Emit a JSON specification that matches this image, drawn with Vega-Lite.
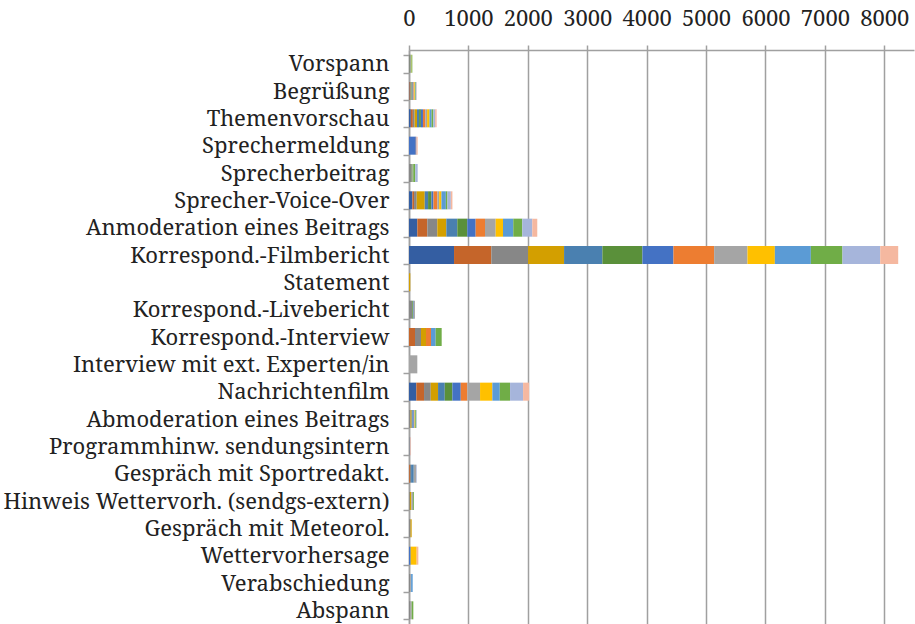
{
  "$schema": "https://vega.github.io/schema/vega-lite/v6.json",
  "width": 505,
  "height": 574,
  "autosize": {"type": "none"},
  "padding": {"left": 409, "top": 50, "right": 1, "bottom": 0},
  "background": "white",
  "config": {"view": {"stroke": null}, "font": "'Noto Serif', 'DejaVu Serif', serif"},
  "datasets": {
    "rows": [
      {"cat": "Vorspann", "s": "S03", "v": 15}, {"cat": "Vorspann", "s": "S06", "v": 10}, {"cat": "Vorspann", "s": "S09", "v": 10}, {"cat": "Vorspann", "s": "S10", "v": 6}, {"cat": "Vorspann", "s": "S12", "v": 15},
      {"cat": "Begrüßung", "s": "S01", "v": 8}, {"cat": "Begrüßung", "s": "S02", "v": 10}, {"cat": "Begrüßung", "s": "S03", "v": 12}, {"cat": "Begrüßung", "s": "S04", "v": 10}, {"cat": "Begrüßung", "s": "S05", "v": 8}, {"cat": "Begrüßung", "s": "S06", "v": 10}, {"cat": "Begrüßung", "s": "S07", "v": 8}, {"cat": "Begrüßung", "s": "S08", "v": 12}, {"cat": "Begrüßung", "s": "S09", "v": 10}, {"cat": "Begrüßung", "s": "S10", "v": 12}, {"cat": "Begrüßung", "s": "S11", "v": 10}, {"cat": "Begrüßung", "s": "S12", "v": 8}, {"cat": "Begrüßung", "s": "S13", "v": 8}, {"cat": "Begrüßung", "s": "S14", "v": 4},
      {"cat": "Themenvorschau", "s": "S01", "v": 30}, {"cat": "Themenvorschau", "s": "S02", "v": 35}, {"cat": "Themenvorschau", "s": "S03", "v": 30}, {"cat": "Themenvorschau", "s": "S04", "v": 40}, {"cat": "Themenvorschau", "s": "S05", "v": 35}, {"cat": "Themenvorschau", "s": "S06", "v": 30}, {"cat": "Themenvorschau", "s": "S07", "v": 35}, {"cat": "Themenvorschau", "s": "S08", "v": 40}, {"cat": "Themenvorschau", "s": "S09", "v": 30}, {"cat": "Themenvorschau", "s": "S10", "v": 40}, {"cat": "Themenvorschau", "s": "S11", "v": 35}, {"cat": "Themenvorschau", "s": "S12", "v": 30}, {"cat": "Themenvorschau", "s": "S13", "v": 30}, {"cat": "Themenvorschau", "s": "S14", "v": 25},
      {"cat": "Sprechermeldung\u00a0", "s": "S07", "v": 115}, {"cat": "Sprechermeldung\u00a0", "s": "S08", "v": 10}, {"cat": "Sprechermeldung\u00a0", "s": "S13", "v": 8}, {"cat": "Sprechermeldung\u00a0", "s": "S14", "v": 13},
      {"cat": "Sprecherbeitrag", "s": "S03", "v": 45}, {"cat": "Sprecherbeitrag", "s": "S06", "v": 15}, {"cat": "Sprecherbeitrag", "s": "S09", "v": 11}, {"cat": "Sprecherbeitrag", "s": "S12", "v": 35}, {"cat": "Sprecherbeitrag", "s": "S13", "v": 40},
      {"cat": "Sprecher-Voice-Over", "s": "S01", "v": 56}, {"cat": "Sprecher-Voice-Over", "s": "S02", "v": 29}, {"cat": "Sprecher-Voice-Over", "s": "S03", "v": 45}, {"cat": "Sprecher-Voice-Over", "s": "S04", "v": 135}, {"cat": "Sprecher-Voice-Over", "s": "S05", "v": 56}, {"cat": "Sprecher-Voice-Over", "s": "S06", "v": 56}, {"cat": "Sprecher-Voice-Over", "s": "S07", "v": 34}, {"cat": "Sprecher-Voice-Over", "s": "S08", "v": 67}, {"cat": "Sprecher-Voice-Over", "s": "S09", "v": 29}, {"cat": "Sprecher-Voice-Over", "s": "S10", "v": 39}, {"cat": "Sprecher-Voice-Over", "s": "S11", "v": 74}, {"cat": "Sprecher-Voice-Over", "s": "S12", "v": 27}, {"cat": "Sprecher-Voice-Over", "s": "S13", "v": 57}, {"cat": "Sprecher-Voice-Over", "s": "S14", "v": 27},
      {"cat": "Anmoderation eines Beitrags", "s": "S01", "v": 140}, {"cat": "Anmoderation eines Beitrags", "s": "S02", "v": 168}, {"cat": "Anmoderation eines Beitrags", "s": "S03", "v": 168}, {"cat": "Anmoderation eines Beitrags", "s": "S04", "v": 152}, {"cat": "Anmoderation eines Beitrags", "s": "S05", "v": 185}, {"cat": "Anmoderation eines Beitrags", "s": "S06", "v": 168}, {"cat": "Anmoderation eines Beitrags", "s": "S07", "v": 141}, {"cat": "Anmoderation eines Beitrags", "s": "S08", "v": 157}, {"cat": "Anmoderation eines Beitrags", "s": "S09", "v": 180}, {"cat": "Anmoderation eines Beitrags", "s": "S10", "v": 123}, {"cat": "Anmoderation eines Beitrags", "s": "S11", "v": 173}, {"cat": "Anmoderation eines Beitrags", "s": "S12", "v": 152}, {"cat": "Anmoderation eines Beitrags", "s": "S13", "v": 168}, {"cat": "Anmoderation eines Beitrags", "s": "S14", "v": 84},
      {"cat": "Korrespond.-Filmbericht", "s": "S01", "v": 758}, {"cat": "Korrespond.-Filmbericht", "s": "S02", "v": 628}, {"cat": "Korrespond.-Filmbericht", "s": "S03", "v": 618}, {"cat": "Korrespond.-Filmbericht", "s": "S04", "v": 606}, {"cat": "Korrespond.-Filmbericht", "s": "S05", "v": 645}, {"cat": "Korrespond.-Filmbericht", "s": "S06", "v": 674}, {"cat": "Korrespond.-Filmbericht", "s": "S07", "v": 522}, {"cat": "Korrespond.-Filmbericht", "s": "S08", "v": 685}, {"cat": "Korrespond.-Filmbericht", "s": "S09", "v": 561}, {"cat": "Korrespond.-Filmbericht", "s": "S10", "v": 461}, {"cat": "Korrespond.-Filmbericht", "s": "S11", "v": 606}, {"cat": "Korrespond.-Filmbericht", "s": "S12", "v": 532}, {"cat": "Korrespond.-Filmbericht", "s": "S13", "v": 635}, {"cat": "Korrespond.-Filmbericht", "s": "S14", "v": 303},
      {"cat": "Statement", "s": "S04", "v": 22},
      {"cat": "Korrespond.-Livebericht", "s": "S03", "v": 55}, {"cat": "Korrespond.-Livebericht", "s": "S06", "v": 15}, {"cat": "Korrespond.-Livebericht", "s": "S07", "v": 10}, {"cat": "Korrespond.-Livebericht", "s": "S09", "v": 20},
      {"cat": "Korrespond.-Interview", "s": "S02", "v": 101}, {"cat": "Korrespond.-Interview", "s": "S03", "v": 101}, {"cat": "Korrespond.-Interview", "s": "S04", "v": 84}, {"cat": "Korrespond.-Interview", "s": "S08", "v": 84}, {"cat": "Korrespond.-Interview", "s": "S11", "v": 79}, {"cat": "Korrespond.-Interview", "s": "S12", "v": 101},
      {"cat": "Interview mit ext. Experten/in", "s": "S09", "v": 140},
      {"cat": "Nachrichtenfilm", "s": "S01", "v": 123}, {"cat": "Nachrichtenfilm", "s": "S02", "v": 130}, {"cat": "Nachrichtenfilm", "s": "S03", "v": 113}, {"cat": "Nachrichtenfilm", "s": "S04", "v": 123}, {"cat": "Nachrichtenfilm", "s": "S05", "v": 113}, {"cat": "Nachrichtenfilm", "s": "S06", "v": 128}, {"cat": "Nachrichtenfilm", "s": "S07", "v": 141}, {"cat": "Nachrichtenfilm", "s": "S08", "v": 111}, {"cat": "Nachrichtenfilm", "s": "S09", "v": 214}, {"cat": "Nachrichtenfilm", "s": "S10", "v": 207}, {"cat": "Nachrichtenfilm", "s": "S11", "v": 125}, {"cat": "Nachrichtenfilm", "s": "S12", "v": 173}, {"cat": "Nachrichtenfilm", "s": "S13", "v": 219}, {"cat": "Nachrichtenfilm", "s": "S14", "v": 101},
      {"cat": "Abmoderation eines Beitrags", "s": "S03", "v": 25}, {"cat": "Abmoderation eines Beitrags", "s": "S04", "v": 20}, {"cat": "Abmoderation eines Beitrags", "s": "S05", "v": 15}, {"cat": "Abmoderation eines Beitrags", "s": "S07", "v": 20}, {"cat": "Abmoderation eines Beitrags", "s": "S09", "v": 15}, {"cat": "Abmoderation eines Beitrags", "s": "S10", "v": 10}, {"cat": "Abmoderation eines Beitrags", "s": "S12", "v": 15}, {"cat": "Abmoderation eines Beitrags", "s": "S13", "v": 10},
      {"cat": "Programmhinw. sendungsintern\u00a0", "s": "S03", "v": 14}, {"cat": "Programmhinw. sendungsintern\u00a0", "s": "S13", "v": 10}, {"cat": "Programmhinw. sendungsintern\u00a0", "s": "S14", "v": 10},
      {"cat": "Gespräch mit Sportredakt.", "s": "S02", "v": 15}, {"cat": "Gespräch mit Sportredakt.", "s": "S03", "v": 20}, {"cat": "Gespräch mit Sportredakt.", "s": "S05", "v": 45}, {"cat": "Gespräch mit Sportredakt.", "s": "S09", "v": 40}, {"cat": "Gespräch mit Sportredakt.", "s": "S13", "v": 10},
      {"cat": "Hinweis Wettervorh. (sendgs-extern)", "s": "S03", "v": 15}, {"cat": "Hinweis Wettervorh. (sendgs-extern)", "s": "S04", "v": 25}, {"cat": "Hinweis Wettervorh. (sendgs-extern)", "s": "S09", "v": 30}, {"cat": "Hinweis Wettervorh. (sendgs-extern)", "s": "S12", "v": 14},
      {"cat": "Gespräch mit Meteorol.\u00a0", "s": "S03", "v": 25}, {"cat": "Gespräch mit Meteorol.\u00a0", "s": "S04", "v": 20},
      {"cat": "Wettervorhersage", "s": "S07", "v": 28}, {"cat": "Wettervorhersage", "s": "S10", "v": 101}, {"cat": "Wettervorhersage", "s": "S14", "v": 28},
      {"cat": "Verabschiedung", "s": "S03", "v": 20}, {"cat": "Verabschiedung", "s": "S09", "v": 15}, {"cat": "Verabschiedung", "s": "S11", "v": 27},
      {"cat": "Abspann", "s": "S03", "v": 25}, {"cat": "Abspann", "s": "S09", "v": 20}, {"cat": "Abspann", "s": "S12", "v": 28}
    ]
  },
  "data": {"name": "rows"},
  "mark": {"type": "bar"},
  "encoding": {
    "y": {
      "field": "cat",
      "type": "nominal",
      "sort": ["Vorspann", "Begrüßung", "Themenvorschau", "Sprechermeldung\u00a0", "Sprecherbeitrag", "Sprecher-Voice-Over", "Anmoderation eines Beitrags", "Korrespond.-Filmbericht", "Statement", "Korrespond.-Livebericht", "Korrespond.-Interview", "Interview mit ext. Experten/in", "Nachrichtenfilm", "Abmoderation eines Beitrags", "Programmhinw. sendungsintern\u00a0", "Gespräch mit Sportredakt.", "Hinweis Wettervorh. (sendgs-extern)", "Gespräch mit Meteorol.\u00a0", "Wettervorhersage", "Verabschiedung", "Abspann"],
      "scale": {"paddingInner": 0.34, "paddingOuter": 0.17},
      "axis": {
        "title": null,
        "tickBand": "extent",
        "domainColor": "#a0a0a0",
        "domainWidth": 1.5,
        "tickColor": "#a0a0a0",
        "tickWidth": 1.5,
        "tickSize": 6,
        "labelPadding": 14,
        "labelFontSize": 22,
        "labelColor": "#222222",
        "labelLimit": 0,
        "grid": false
      }
    },
    "x": {
      "field": "v",
      "type": "quantitative",
      "stack": "zero",
      "scale": {"domain": [0, 8500], "nice": false},
      "axis": {
        "orient": "top",
        "title": null,
        "values": [0, 1000, 2000, 3000, 4000, 5000, 6000, 7000, 8000],
        "format": "d",
        "grid": true,
        "gridColor": "#a0a0a0",
        "gridWidth": 1.5,
        "domainColor": "#a0a0a0",
        "domainWidth": 1.5,
        "tickColor": "#a0a0a0",
        "tickWidth": 1.5,
        "tickSize": 5,
        "labelPadding": 15,
        "labelFontSize": 22,
        "labelColor": "#222222",
        "labelFlush": false,
        "labelOverlap": false
      }
    },
    "color": {
      "field": "s",
      "type": "nominal",
      "scale": {
        "domain": ["S01", "S02", "S03", "S04", "S05", "S06", "S07", "S08", "S09", "S10", "S11", "S12", "S13", "S14"],
        "range": ["#345ea2", "#c5652a", "#878787", "#d39f00", "#4a80b0", "#5a903a", "#4472c4", "#ed7d31", "#a5a5a5", "#ffc000", "#5b9bd5", "#70ad47", "#a6b5db", "#f5b8a0"]
      },
      "legend": null
    },
    "order": {"field": "s", "sort": "ascending"}
  }
}
